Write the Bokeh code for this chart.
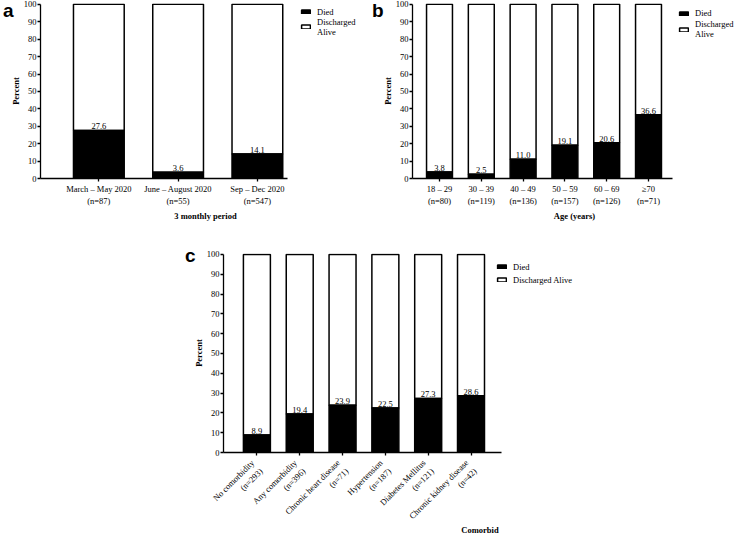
import numpy as np
from bokeh.plotting import figure
from bokeh.models import ColumnDataSource, Legend, LegendItem, FixedTicker, Range1d, Div, Spacer
from bokeh.layouts import column, row
from bokeh.embed import file_html
from bokeh.resources import INLINE
from bokeh.core.properties import value

# ---- data ----
period_labels = ["March – May 2020\n(n=87)", "June – August 2020\n(n=55)", "Sep – Dec 2020\n(n=547)"]
period_died = [27.6, 3.6, 14.1]

age_labels = ["18 – 29\n(n=80)", "30 – 39\n(n=119)", "40 – 49\n(n=136)",
              "50 – 59\n(n=157)", "60 – 69\n(n=126)", "≥70\n(n=71)"]
age_died = [3.8, 2.5, 11.0, 19.1, 20.6, 36.6]

comorb_labels = ["No comorbidity\n(n=293)", "Any comorbidity\n(n=396)",
                 "Chronic heart disease\n(n=71)", "Hypertension\n(n=187)",
                 "Diabetes Mellitus\n(n=121)", "Chronic kidney disease\n(n=42)"]
comorb_died = [8.9, 19.4, 23.9, 22.5, 27.3, 28.6]

y_ticks = list(range(0, 101, 10))

SERIF = "Liberation Serif"
FS = "8.5px"


def panel(labels, died, w, h, bl, bt, bb, xs, x_axis_end, x_frame_end, bw, xlabel,
          legend_xy, legend_spacing, alive_label, rot=0.0):
    n = len(labels)
    idx = list(range(n))
    src = ColumnDataSource(dict(x=idx, died=died, top=[100] * n,
                                lab=[f"{d:.1f}" for d in died]))
    p = figure(width=w, height=h, x_range=Range1d(xs, x_frame_end), y_range=Range1d(0, 100.5),
               output_backend="svg", toolbar_location=None,
               min_border_left=bl, min_border_right=0, min_border_top=bt, min_border_bottom=bb)
    p.outline_line_color = None
    p.border_fill_alpha = 0
    p.background_fill_alpha = 0
    p.xgrid.visible = False
    p.ygrid.visible = False
    r_alive = p.vbar(x="x", bottom="died", top="top", width=bw, source=src,
                     fill_color="white", line_color="black", line_width=1.5)
    r_died = p.vbar(x="x", bottom=0, top="died", width=bw, source=src,
                    fill_color="black", line_color="black", line_width=1.5)
    p.text(x="x", y="died", text="lab", source=src, text_align="center",
           text_baseline="bottom", y_offset=-1, text_font=value(SERIF),
           text_font_size=FS, text_color="black")

    for ax in (p.xaxis[0], p.yaxis[0]):
        ax.axis_line_width = 1.3
        ax.axis_line_color = "black"
        ax.major_tick_line_width = 1.3
        ax.major_tick_line_color = "black"
        ax.major_tick_in = 0
        ax.major_tick_out = 3
        ax.minor_tick_line_color = None
        ax.major_label_text_font = SERIF
        ax.major_label_text_font_size = FS
        ax.major_label_text_color = "black"
        ax.major_label_standoff = 2
        ax.axis_label_text_font = SERIF
        ax.axis_label_text_font_size = FS
        ax.axis_label_text_font_style = "bold"
        ax.axis_label_text_color = "black"
        ax.axis_label_standoff = 2
    p.yaxis.major_label_standoff = 1
    p.yaxis.axis_label_standoff = 0
    if rot:
        p.xaxis.major_label_orientation = rot
        p.xaxis.major_label_standoff = 10
        p.xaxis.axis_label_standoff = -15

    p.yaxis.ticker = FixedTicker(ticks=y_ticks)
    p.yaxis.bounds = (0, 100)
    p.yaxis.axis_label = "Percent"
    p.xaxis.ticker = FixedTicker(ticks=idx)
    p.xaxis.bounds = (xs, x_axis_end)
    p.xaxis.major_label_overrides = {i: lab for i, lab in enumerate(labels)}
    p.xaxis.axis_label = xlabel

    legend = Legend(items=[LegendItem(label="Died", renderers=[r_died]),
                           LegendItem(label=alive_label, renderers=[r_alive])],
                    location=legend_xy, orientation="vertical")
    legend.border_line_color = None
    legend.background_fill_alpha = 0
    legend.padding = 0
    legend.margin = 0
    legend.spacing = legend_spacing
    legend.glyph_width = 11
    legend.glyph_height = 5
    legend.label_height = 9
    legend.label_standoff = 6
    legend.label_text_font = SERIF
    legend.label_text_font_size = FS
    legend.label_text_color = "black"
    p.add_layout(legend)
    return p


def letter(ch, w, left, top):
    html = ('<div style="font-family:\'Liberation Sans\';font-weight:bold;font-size:19px;'
            'line-height:19px;margin-left:%dpx;margin-top:%dpx;color:black;white-space:nowrap">%s</div>'
            % (left, top, ch))
    return Div(text=html, width=w, height=30, margin=0, styles={"overflow": "visible"})


pa = panel(period_labels, period_died, 364, 230, 34, 3, 52, -0.736, 2.38, 3.427, 0.64,
           "3 monthly period", (260, 141.5), 0, "Discharged\nAlive")
pb = panel(age_labels, age_died, 360, 230, 36, 3, 50, -0.646, 5.574, 7.105, 0.62,
           "Age (years)", (266, 139), 1, "Discharged\nAlive")
pc = panel(comorb_labels, comorb_died, 547, 308, 34, 23, 86, -0.78, 5.71, 11.2, 0.63,
           "Comorbid", (273, 167.5), 3, "Discharged Alive", rot=np.pi / 4)

layout = column(
    row(letter("a", 6, 3, 1), pa, letter("b", 6, 2, 1), pb, spacing=0),
    row(Spacer(width=183, height=10, margin=0), letter("c", 6, 2, 16), pc, spacing=0),
    spacing=0,
)

open("out.html", "w").write(file_html(layout, INLINE))
